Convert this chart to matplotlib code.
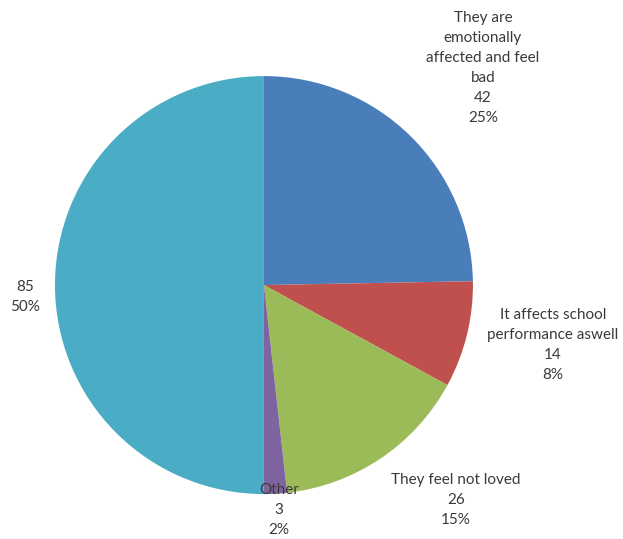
import matplotlib
matplotlib.use("Agg")
import matplotlib.pyplot as plt

# slice data (clockwise from 12 o'clock)
categories = ["They are\nemotionally\naffected and feel\nbad",
              "It affects school\nperformance aswell",
              "They feel not loved",
              "Other",
              ""]
values = [42, 14, 26, 3, 85]
colors = ["#4A7EBB", "#C0504D", "#9BBB59", "#8064A2", "#4BACC6"]

# where each data label sits, relative to the pie (radius = 1)
label_pos = [(1.048, 1.038), (1.383, -0.287), (0.919, -1.029),
             (0.072, -1.077), (-1.144, -0.057)]

plt.rcParams['font.family'] = ['Lato', 'DejaVu Sans']

fig = plt.figure(figsize=(6.23, 5.39), dpi=100)
ax = fig.add_axes([0, 0, 1, 1])

ax.pie(values, colors=colors, startangle=90, counterclock=False,
       radius=1.0, wedgeprops=dict(linewidth=0))

total = sum(values)
for cat, v, (x, y) in zip(categories, values, label_pos):
    pct = round(100 * v / total)
    txt = f"{cat}\n{v}\n{pct}%" if cat else f"{v}\n{pct}%"
    ax.text(x, y, txt, ha="center", va="center", fontsize=11,
            color="#3a3a3a", linespacing=1.55)

ax.set_xlim(-1.263, 1.718)
ax.set_ylim(-1.215, 1.364)
ax.set_aspect("equal")
ax.axis("off")

fig.savefig("out.png", dpi=100)
